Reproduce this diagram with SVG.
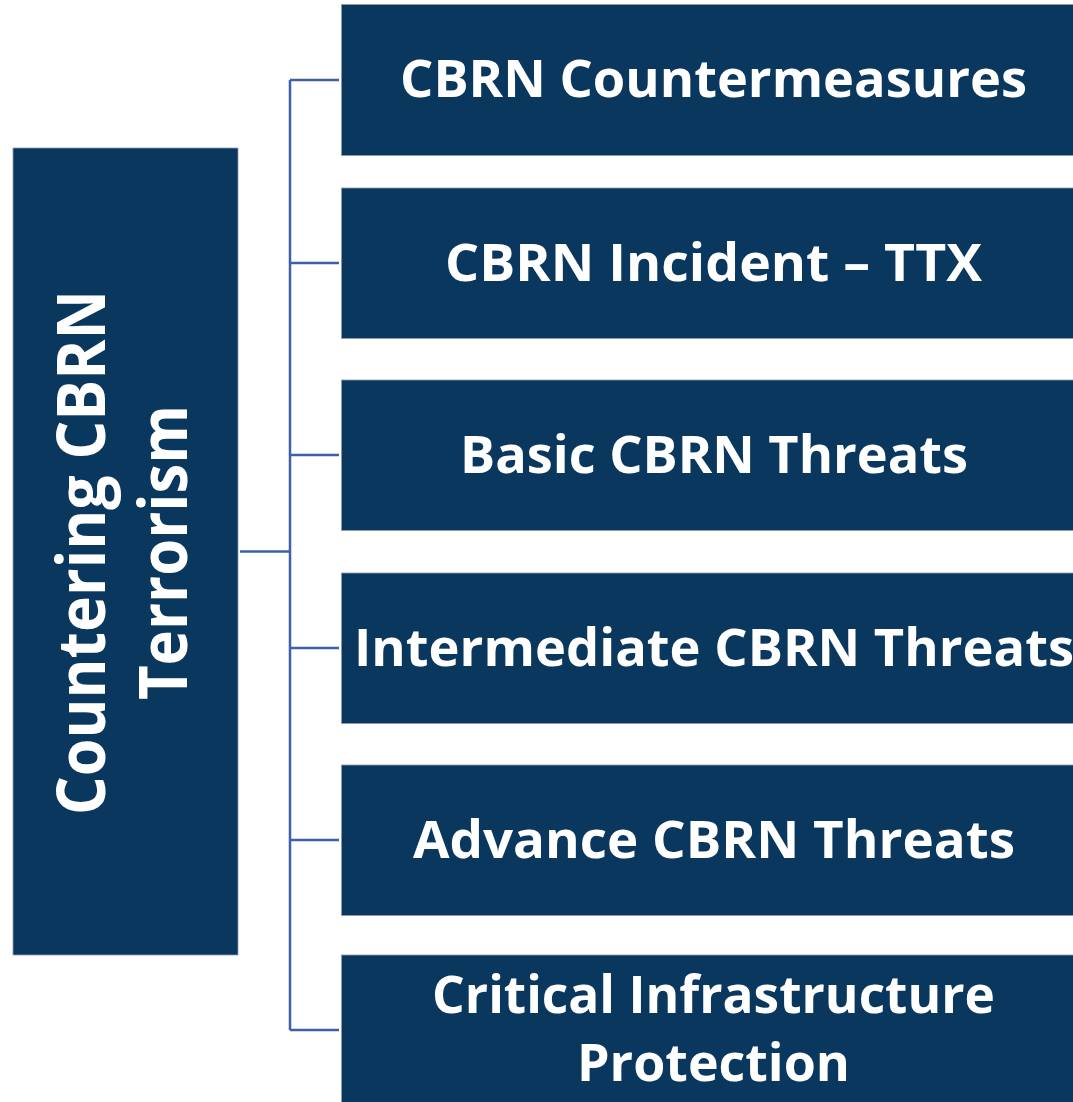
<svg xmlns="http://www.w3.org/2000/svg" width="1073" height="1102" viewBox="0 0 1073 1102">
<style>
.box{fill:#09375D;stroke:#8E9CB0;stroke-width:0.8}
.t{fill:#FFFFFF;font-family:"Open Sans","Liberation Sans",sans-serif;font-weight:bold;font-size:52px;text-anchor:middle}
.lt{fill:#FFFFFF;font-family:"Open Sans","Liberation Sans",sans-serif;font-weight:bold;font-size:66px;text-anchor:middle}
.c{stroke:#3F5FA8;stroke-width:2.5;fill:none}
</style>
<rect width="1073" height="1102" fill="#FFFFFF"/>
<g id="connectors">
<line class="c" x1="240" y1="551.5" x2="290" y2="551.5"/>
<line class="c" x1="290" y1="80" x2="290" y2="1030"/>
<line class="c" x1="290" y1="80" x2="339" y2="80"/>
<line class="c" x1="290" y1="263" x2="339" y2="263"/>
<line class="c" x1="290" y1="455" x2="339" y2="455"/>
<line class="c" x1="290" y1="648" x2="339" y2="648"/>
<line class="c" x1="290" y1="840" x2="339" y2="840"/>
<line class="c" x1="290" y1="1030" x2="339" y2="1030"/>
</g>
<g id="root">
<rect class="box" x="13" y="148" width="225" height="807"/>
<text class="lt" transform="translate(105,552.5) rotate(-90)" x="0" y="0" textLength="525" lengthAdjust="spacingAndGlyphs">Countering CBRN</text>
<text class="lt" transform="translate(187,552.5) rotate(-90)" x="0" y="0" textLength="295" lengthAdjust="spacingAndGlyphs">Terrorism</text>
</g>
<g id="n1">
<rect class="box" x="341.5" y="4.5" width="733" height="151"/>
<text class="t" x="713.5" y="97" textLength="627" lengthAdjust="spacingAndGlyphs">CBRN Countermeasures</text>
</g>
<g id="n2">
<rect class="box" x="341.5" y="188" width="733" height="150.5"/>
<text class="t" x="713.5" y="281" textLength="537" lengthAdjust="spacingAndGlyphs">CBRN Incident – TTX</text>
</g>
<g id="n3">
<rect class="box" x="341.5" y="380" width="733" height="150.5"/>
<text class="t" x="714" y="473" textLength="508" lengthAdjust="spacingAndGlyphs">Basic CBRN Threats</text>
</g>
<g id="n4">
<rect class="box" x="341.5" y="573" width="733" height="150.5"/>
<text class="t" x="714" y="666" textLength="720" lengthAdjust="spacingAndGlyphs">Intermediate CBRN Threats</text>
</g>
<g id="n5">
<rect class="box" x="341.5" y="765" width="733" height="150.5"/>
<text class="t" x="714" y="858" textLength="602" lengthAdjust="spacingAndGlyphs">Advance CBRN Threats</text>
</g>
<g id="n6">
<rect class="box" x="341.5" y="955" width="733" height="150"/>
<text class="t" x="713.5" y="1013" textLength="563" lengthAdjust="spacingAndGlyphs">Critical Infrastructure</text>
<text class="t" x="713.5" y="1081" textLength="273" lengthAdjust="spacingAndGlyphs">Protection</text>
</g>
</svg>
